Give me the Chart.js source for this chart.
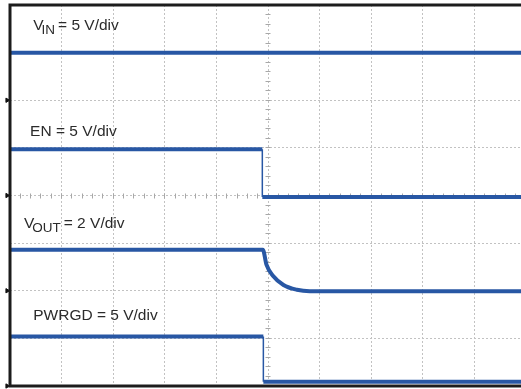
<!DOCTYPE html>
<html><head><meta charset="utf-8">
<script src="https://cdn.jsdelivr.net/npm/chart.js@4/dist/chart.umd.min.js"></script>
<style>
html,body{margin:0;padding:0;background:#fff;overflow:hidden;width:521px;height:389px}
#wrap{position:relative;width:532px;height:391px}
</style></head>
<body><div id="wrap"><canvas id="c"></canvas></div>
<script>
// Horizontal axis: time in divisions (0..10); vertical axis: screen divisions (0..8)
const vinX  = [0, 10];
const vinY  = [7.0, 7.0];
const enX   = [0, 4.89, 4.89, 10];
const enY   = [4.97, 4.97, 3.97, 3.97];
const voutX = [0, 4.90, 4.97, 5.10, 5.30, 5.56, 5.81, 10];
const voutY = [2.86, 2.86, 2.55, 2.31, 2.12, 2.02, 1.99, 1.99];
const pgX   = [0, 4.91, 4.91, 10];
const pgY   = [1.04, 1.04, 0.09, 0.09];
const groundLevels = [0, 2, 4, 6];
const labelMain = ['V', 'EN = 5 V/div', 'V', 'PWRGD = 5 V/div'];
const labelSub  = ['IN', '', 'OUT', ''];
const labelRest = ['= 5 V/div', '', '= 2 V/div', ''];

const BLUE = '#2857a4';
const pts = (xs, ys) => xs.map((x, i) => ({x, y: ys[i]}));

const trace = (data, smooth) => ({
  data, xAxisID: 'x', yAxisID: 'y', showLine: true, pointRadius: 0,
  borderColor: BLUE, backgroundColor: BLUE, borderWidth: 4,
  tension: smooth ? 0.4 : 0,
  cubicInterpolationMode: smooth ? 'monotone' : 'default',
  segment: { borderWidth: c => (c.p0.parsed.x === c.p1.parsed.x ? 1.5 : 4) }
});

const textPlugin = {
  id: 'scopeText',
  afterDatasetsDraw(chart, args, opts) {
    const {ctx} = chart, x = chart.scales.x, y = chart.scales.y;
    ctx.save();
    ctx.fillStyle = opts.color;
    ctx.textBaseline = 'alphabetic';
    opts.positions.forEach((p, i) => {
      let px = x.getPixelForValue(p[0]);
      const py = y.getPixelForValue(p[1]);
      ctx.font = opts.font;
      ctx.fillText(labelMain[i], px, py);
      px += ctx.measureText(labelMain[i]).width;
      if (labelSub[i]) {
        px -= 2;
        ctx.font = opts.subFont;
        ctx.fillText(labelSub[i], px, py + 4);
        px += ctx.measureText(labelSub[i]).width + 3;
        ctx.font = opts.font;
        ctx.fillText(labelRest[i], px, py);
      }
    });
    ctx.restore();
  }
};

const framePlugin = {
  id: 'frame',
  afterDraw(chart, args, opts) {
    const {ctx, chartArea: a} = chart;
    ctx.save();
    ctx.strokeStyle = opts.color;
    ctx.lineWidth = opts.width;
    ctx.strokeRect(a.left, a.top, a.right - a.left, a.bottom - a.top);
    ctx.restore();
  }
};

const minorAxis = (pos, len, max) => ({
  type: 'linear', position: pos, min: 0, max: max,
  ticks: { display: false, stepSize: 0.2, autoSkip: false },
  grid: { drawOnChartArea: false, drawTicks: true, tickLength: len, tickColor: '#a8a8a8', tickWidth: 1 },
  border: { display: false }
});

new Chart(document.getElementById('c'), {
  type: 'scatter',
  data: {
    datasets: [
      trace(pts(vinX, vinY)),
      trace(pts(enX, enY)),
      trace(pts(voutX, voutY), true),
      trace(pts(pgX, pgY)),
      {
        data: groundLevels.map(v => ({x: -0.055, y: v})),
        indexAxis: 'y',
        xAxisID: 'x', yAxisID: 'y', showLine: false, clip: false,
        pointStyle: 'triangle', rotation: 90, pointRadius: 2.5, pointBorderWidth: 1,
        pointBackgroundColor: '#111', pointBorderColor: '#111'
      }
    ]
  },
  options: {
    responsive: true, maintainAspectRatio: false, animation: false,
    events: [],
    layout: { padding: { left: 10, top: 4.5, right: 6, bottom: 1.5 } },
    plugins: {
      legend: { display: false }, tooltip: { enabled: false },
      scopeText: {
        color: '#2b2b2b',
        font: '15.5px "Liberation Sans", Arial, sans-serif',
        subFont: '13.5px "Liberation Sans", Arial, sans-serif',
        positions: [[0.45, 7.47], [0.39, 5.25], [0.27, 3.31], [0.45, 1.39]]
      },
      frame: { color: '#1c1c1c', width: 3 }
    },
    scales: {
      x: {
        type: 'linear', min: 0, max: 10,
        ticks: { display: false, stepSize: 1 },
        grid: { color: '#c2c2c2', lineWidth: 1, drawTicks: false },
        border: { display: false, dash: [2, 2] }
      },
      y: {
        type: 'linear', min: 0, max: 8,
        ticks: { display: false, stepSize: 1 },
        grid: { color: '#c2c2c2', lineWidth: 1, drawTicks: false },
        border: { display: false, dash: [2, 2] }
      },
      xMinorA: minorAxis({y: 4}, 2.5, 10),
      xMinorB: minorAxis({y: 4}, -2.5, 10),
      yMinorA: minorAxis({x: 5}, 2.5, 8),
      yMinorB: minorAxis({x: 5}, -2.5, 8)
    }
  },
  plugins: [textPlugin, framePlugin]
});
</script>
</body></html>
